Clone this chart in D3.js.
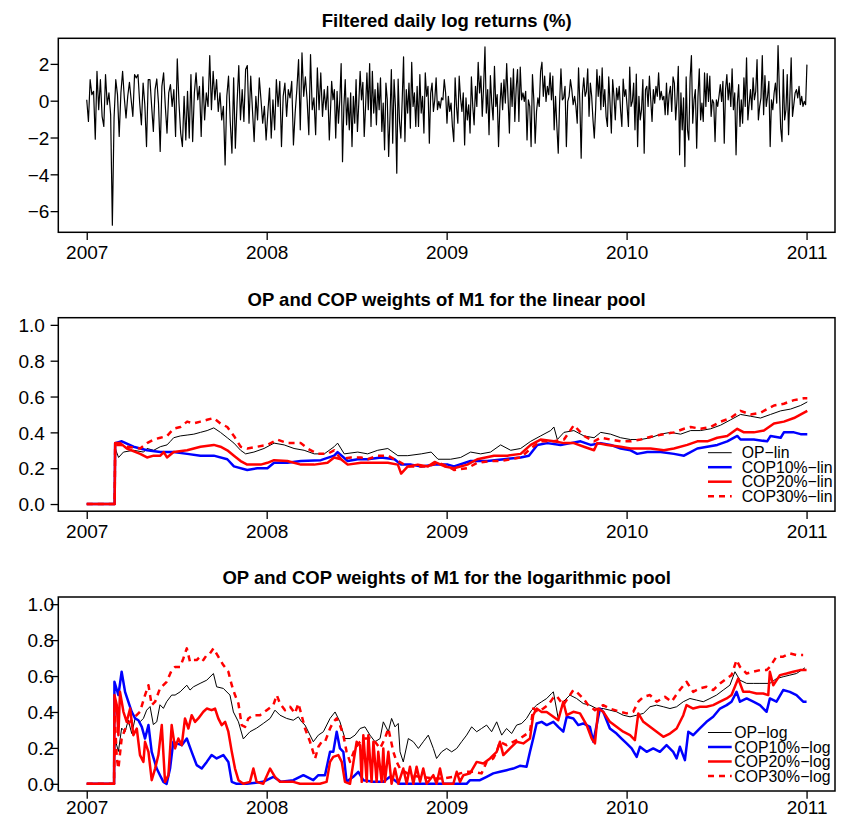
<!DOCTYPE html>
<html><head><meta charset="utf-8">
<script src="https://cdn.jsdelivr.net/npm/d3@7/dist/d3.min.js"></script>
<style>
body{margin:0;background:#fff}
svg{display:block}
</style>
</head><body>
<svg id="chart" width="842" height="815"></svg>
<script>
// ---------- data (time in years since 2007) ----------
const yearTicks = [0, 1, 2, 3, 4];
const yearLabels = ["2007", "2008", "2009", "2010", "2011"];
const returnTicks = [2, 0, -2, -4, -6];
const weightTicks = [0, 0.2, 0.4, 0.6, 0.8, 1.0];
const titles = [
  "Filtered daily log returns (%)",
  "OP and COP weights of M1 for the linear pool",
  "OP and COP weights of M1 for the logarithmic pool"
];
const legendLin = ["OP\u2212lin", "COP10%\u2212lin", "COP20%\u2212lin", "COP30%\u2212lin"];
const legendLog = ["OP\u2212log", "COP10%\u2212log", "COP20%\u2212log", "COP30%\u2212log"];

// daily returns, read in three consecutive stretches (start, end in years since 2007)
const returnSpans = [[0, 1.348], [1.361, 2.703], [2.711, 4.002]];
const returnsA = [0.05,-1.13,1.14,0.33,0.51,-2.09,1.60,-0.49,1.14,-0.85,-1.40,1.42,-0.22,0.42,-0.76,-6.76,-0.94,1.14,0.33,-1.94,0.42,1.60,0.15,-0.94,0.24,1.00,0.05,-0.85,1.42,1.24,1.42,-0.13,-1.31,0.96,-0.22,-2.49,1.14,1.14,-0.31,-1.67,0.60,1.18,-0.13,-2.76,0.78,1.51,-0.31,-1.76,0.42,0.87,-0.31,0.60,-1.94,2.27,-0.13,-1.76,-2.49,0.24,-2.13,0.51,-2.03,1.42,-2.22,0.42,1.51,0.05,0.78,-1.94,1.29,-1.04,0.42,-0.31,2.45,-0.49,1.60,0.05,1.14,-0.58,0.42,-1.04,-0.31,-3.49,0.24,1.33,-1.13,-2.85,1.24,-2.58,-0.13,1.91,-1.04,0.60,-1.13,1.69,1.91,-1.22,1.33,-0.49,-2.22,0.24,-1.04,1.24,0.05,-1.22,-0.31,-2.13,-0.67,0.69,-2.03,0.05,-1.58,1.14,-0.31,1.05,-2.49,0.24,0.96,-0.85,0.60,0.15,1.05,-2.40,-0.67,0.60,2.23,-1.58,2.60,0.24,1.29,0.05,-1.85,2.51,-0.49,0.15,-1.85,1.78,-0.49,1.51,-0.85,0.60,-0.49,0.78,-2.13];
const returnsB = [1.05,0.05,0.60,-2.03,0.51,-1.22,0.05,2.02,-3.31,-0.31,1.14,-1.31,0.15,-1.58,0.42,-2.49,0.24,-1.22,1.14,-1.67,-0.13,1.60,0.05,1.00,-1.94,-0.31,1.51,-0.49,2.02,-1.40,1.60,-0.67,0.60,-1.31,0.96,-0.49,1.24,-1.67,-0.13,-2.67,0.96,0.05,-3.03,-0.85,1.69,-2.31,1.14,-0.31,-3.94,1.18,-1.13,-2.03,0.05,2.38,-2.22,0.60,-0.67,0.96,-1.49,2.09,-0.31,0.42,-1.40,0.78,-1.40,1.42,-0.67,0.24,-1.76,1.51,0.24,0.78,-2.31,0.42,0.96,-0.58,0.05,1.24,-0.49,-0.04,-0.40,0.15,0.05,1.14,0.42,-1.22,0.24,-0.58,-0.13,-1.40,-2.22,1.24,-0.31,-1.22,1.33,0.15,-0.58,0.42,-2.40,0.15,-1.04,-0.22,-1.76,1.29,-0.31,-1.31,0.78,-0.31,2.09,0.42,1.33,-0.85,0.78,2.92,-0.67,0.60,-1.85,1.36,-0.13,-1.04,1.87,-0.31,0.33,-2.49,-0.31,0.96,-0.49,1.14,-0.13,2.02,0.15,-1.76,1.24,-0.31,1.73,-1.13,0.69,1.69,-1.13,1.83,0.05,0.42,-0.04,0.51,-2.13,0.05,-0.31,-2.49,1.42,0.05,-2.31,-0.58,0.15,-0.31,1.60,2.09,0.24,1.33,-0.04,0.78,0.33,1.51,0.05,1.33,-1.58,0.24,-1.40,-2.85,-0.13,1.73,0.05,0.15,0.78,-2.49,-0.04,0.24,1.14,0.60,-0.22];
const returnsC = [0.24,-0.31,-1.22,1.78,-0.13,-3.12,0.42,1.24,0.24,0.51,1.73,-0.85,0.96,0.24,-1.04,-2.03,-0.49,1.69,0.24,1.33,-0.49,1.78,-0.31,0.60,-0.85,-1.40,1.29,-0.13,-1.76,1.14,0.24,-1.04,0.69,0.05,0.78,-0.49,-1.40,1.18,0.24,0.60,-0.31,-1.40,1.83,-0.31,-0.04,0.96,-1.58,1.44,-2.49,0.24,-1.04,-0.49,1.14,-2.85,0.60,0.78,-0.31,1.33,0.05,-1.13,0.60,-0.13,0.78,0.24,1.51,0.05,0.51,0.05,0.24,-0.76,0.96,-0.76,0.33,0.78,-0.58,1.29,0.96,-1.04,0.05,1.87,-2.94,0.42,-1.58,0.15,-3.58,1.29,-1.58,-2.13,1.24,2.45,-1.22,0.05,0.60,-2.58,0.24,1.73,-1.04,-0.13,-1.13,1.51,-0.31,1.47,-0.04,1.33,-0.85,0.05,-0.13,-2.22,0.05,-0.31,0.24,0.87,-0.04,1.05,-2.31,0.60,1.42,0.05,0.96,-0.31,1.73,-0.49,0.42,-2.94,-0.13,0.87,-1.40,0.05,-1.22,1.24,-0.31,2.33,-1.04,-0.13,0.60,-0.49,1.24,0.05,0.51,2.23,-1.04,-0.31,0.15,2.45,-0.76,1.36,-0.31,0.24,1.05,-2.49,0.05,-0.49,0.42,0.96,-0.13,3.00,0.60,-1.49,-2.22,1.69,-1.04,-0.49,1.42,-1.85,0.24,2.33,-0.85,-0.22,0.42,0.60,0.15,0.78,-0.22,0.24,-0.31,-0.04,-0.22,1.96];

// linear pool weights [time, weight]
const opLin = [[0,0],[0.155,0],[0.158,0.31],[0.177,0.26],[0.204,0.29],[0.26,0.30],[0.316,0.29],[0.335,0.31],[0.372,0.30],[0.409,0.32],[0.446,0.33],[0.465,0.35],[0.483,0.37],[0.52,0.38],[0.558,0.385],[0.595,0.39],[0.632,0.40],[0.669,0.41],[0.706,0.425],[0.743,0.40],[0.781,0.37],[0.818,0.34],[0.855,0.30],[0.883,0.28],[0.929,0.29],[0.985,0.31],[1.041,0.34],[1.097,0.33],[1.152,0.31],[1.208,0.30],[1.264,0.28],[1.32,0.28],[1.375,0.32],[1.394,0.34],[1.431,0.28],[1.506,0.29],[1.561,0.28],[1.617,0.30],[1.673,0.31],[1.729,0.27],[1.784,0.27],[1.859,0.28],[1.914,0.29],[1.952,0.25],[2.022,0.25],[2.078,0.26],[2.133,0.29],[2.189,0.28],[2.244,0.29],[2.30,0.33],[2.356,0.30],[2.411,0.31],[2.467,0.35],[2.522,0.38],[2.578,0.41],[2.596,0.43],[2.615,0.36],[2.652,0.40],[2.707,0.41],[2.763,0.38],[2.819,0.37],[2.856,0.40],[2.911,0.39],[2.967,0.37],[3.022,0.36],[3.078,0.36],[3.133,0.37],[3.189,0.39],[3.244,0.40],[3.30,0.39],[3.356,0.41],[3.411,0.41],[3.467,0.42],[3.522,0.44],[3.578,0.47],[3.633,0.50],[3.689,0.49],[3.744,0.48],[3.80,0.50],[3.856,0.52],[3.911,0.53],[3.967,0.55],[4.004,0.57]];
const cop10Lin = [[0,0],[0.155,0],[0.158,0.34],[0.195,0.35],[0.26,0.32],[0.335,0.30],[0.409,0.29],[0.483,0.29],[0.558,0.28],[0.632,0.27],[0.706,0.27],[0.781,0.25],[0.818,0.21],[0.892,0.19],[0.948,0.20],[1.004,0.20],[1.041,0.23],[1.115,0.23],[1.19,0.24],[1.301,0.245],[1.375,0.27],[1.394,0.29],[1.45,0.24],[1.506,0.25],[1.561,0.25],[1.636,0.26],[1.71,0.25],[1.747,0.22],[1.803,0.22],[1.859,0.21],[1.933,0.22],[2.007,0.22],[2.041,0.21],[2.133,0.24],[2.226,0.24],[2.319,0.25],[2.411,0.26],[2.457,0.27],[2.504,0.33],[2.559,0.34],[2.633,0.33],[2.689,0.34],[2.744,0.35],[2.80,0.33],[2.856,0.34],[2.911,0.33],[2.967,0.31],[3.022,0.30],[3.059,0.28],[3.115,0.29],[3.189,0.29],[3.263,0.28],[3.319,0.27],[3.337,0.28],[3.393,0.31],[3.448,0.32],[3.504,0.33],[3.559,0.35],[3.615,0.38],[3.633,0.36],[3.707,0.36],[3.781,0.35],[3.80,0.38],[3.856,0.37],[3.874,0.40],[3.93,0.40],[3.967,0.39],[4.004,0.39]];
const cop20Lin = [[0,0],[0.155,0],[0.158,0.34],[0.186,0.34],[0.223,0.31],[0.297,0.28],[0.335,0.26],[0.372,0.27],[0.409,0.27],[0.428,0.29],[0.446,0.26],[0.483,0.29],[0.558,0.30],[0.595,0.31],[0.632,0.32],[0.706,0.33],[0.743,0.32],[0.781,0.30],[0.818,0.27],[0.855,0.24],[0.892,0.22],[0.967,0.22],[1.004,0.23],[1.041,0.245],[1.115,0.24],[1.19,0.22],[1.264,0.22],[1.338,0.23],[1.375,0.26],[1.413,0.25],[1.45,0.22],[1.524,0.23],[1.599,0.23],[1.673,0.23],[1.729,0.22],[1.747,0.17],[1.784,0.21],[1.84,0.22],[1.896,0.21],[1.933,0.235],[1.989,0.21],[2.041,0.20],[2.115,0.22],[2.17,0.25],[2.263,0.27],[2.337,0.27],[2.411,0.28],[2.467,0.33],[2.522,0.36],[2.596,0.35],[2.652,0.34],[2.707,0.34],[2.763,0.32],[2.819,0.30],[2.837,0.34],[2.893,0.33],[2.967,0.32],[3.022,0.31],[3.078,0.31],[3.133,0.31],[3.207,0.30],[3.263,0.31],[3.337,0.33],[3.393,0.35],[3.448,0.35],[3.504,0.37],[3.559,0.38],[3.615,0.42],[3.652,0.40],[3.707,0.40],[3.763,0.41],[3.819,0.45],[3.874,0.46],[3.93,0.48],[4.004,0.52]];
const cop30Lin = [[0,0],[0.155,0],[0.158,0.33],[0.186,0.33],[0.223,0.32],[0.297,0.31],[0.335,0.34],[0.372,0.36],[0.409,0.37],[0.446,0.38],[0.483,0.42],[0.52,0.43],[0.558,0.46],[0.595,0.45],[0.632,0.46],[0.669,0.47],[0.706,0.48],[0.743,0.45],[0.781,0.43],[0.818,0.38],[0.855,0.32],[0.892,0.31],[0.948,0.32],[1.004,0.33],[1.059,0.36],[1.115,0.34],[1.19,0.34],[1.227,0.31],[1.283,0.28],[1.338,0.28],[1.375,0.30],[1.413,0.25],[1.468,0.26],[1.524,0.26],[1.561,0.25],[1.617,0.27],[1.673,0.27],[1.729,0.24],[1.784,0.21],[1.84,0.21],[1.896,0.21],[1.952,0.23],[2.007,0.21],[2.041,0.19],[2.115,0.20],[2.17,0.23],[2.244,0.24],[2.30,0.24],[2.411,0.26],[2.467,0.31],[2.522,0.35],[2.596,0.35],[2.652,0.36],[2.707,0.44],[2.763,0.38],[2.819,0.35],[2.856,0.37],[2.911,0.36],[2.967,0.35],[3.022,0.35],[3.078,0.36],[3.152,0.38],[3.207,0.39],[3.263,0.40],[3.319,0.42],[3.356,0.43],[3.411,0.42],[3.467,0.43],[3.522,0.46],[3.578,0.48],[3.633,0.52],[3.689,0.50],[3.744,0.51],[3.819,0.55],[3.874,0.56],[3.93,0.58],[3.985,0.59],[4.004,0.59]];

// logarithmic pool weights [time, weight]
const opLog = [[0,0],[0.152,0],[0.157,0.25],[0.176,0.18],[0.194,0.31],[0.213,0.29],[0.231,0.354],[0.25,0.28],[0.269,0.364],[0.296,0.345],[0.315,0.364],[0.333,0.41],[0.352,0.43],[0.37,0.33],[0.389,0.345],[0.407,0.44],[0.426,0.42],[0.444,0.457],[0.472,0.494],[0.491,0.494],[0.519,0.512],[0.556,0.549],[0.574,0.522],[0.593,0.54],[0.63,0.559],[0.667,0.577],[0.704,0.614],[0.722,0.54],[0.759,0.531],[0.796,0.494],[0.815,0.40],[0.843,0.345],[0.87,0.25],[0.907,0.29],[0.944,0.31],[0.981,0.336],[1.019,0.364],[1.046,0.41],[1.074,0.382],[1.111,0.364],[1.148,0.354],[1.176,0.373],[1.194,0.345],[1.213,0.327],[1.259,0.234],[1.287,0.271],[1.315,0.29],[1.352,0.364],[1.38,0.40],[1.407,0.345],[1.435,0.252],[1.463,0.252],[1.491,0.271],[1.519,0.308],[1.546,0.317],[1.574,0.271],[1.602,0.234],[1.63,0.252],[1.648,0.345],[1.676,0.29],[1.694,0.364],[1.713,0.317],[1.731,0.336],[1.741,0.178],[1.759,0.122],[1.787,0.252],[1.815,0.234],[1.843,0.197],[1.87,0.234],[1.898,0.271],[1.926,0.197],[1.944,0.141],[1.972,0.178],[2.0,0.197],[2.028,0.178],[2.056,0.197],[2.083,0.234],[2.111,0.271],[2.139,0.317],[2.167,0.29],[2.194,0.308],[2.222,0.327],[2.25,0.29],[2.278,0.345],[2.306,0.271],[2.333,0.308],[2.361,0.28],[2.389,0.327],[2.417,0.336],[2.444,0.364],[2.472,0.41],[2.50,0.438],[2.528,0.457],[2.556,0.475],[2.583,0.503],[2.593,0.512],[2.62,0.364],[2.648,0.457],[2.685,0.494],[2.722,0.475],[2.759,0.447],[2.796,0.438],[2.833,0.419],[2.87,0.419],[2.907,0.41],[2.944,0.401],[2.981,0.382],[3.019,0.373],[3.056,0.382],[3.093,0.392],[3.13,0.429],[3.167,0.438],[3.204,0.429],[3.241,0.419],[3.278,0.429],[3.315,0.457],[3.352,0.475],[3.389,0.466],[3.426,0.457],[3.463,0.475],[3.50,0.494],[3.537,0.522],[3.574,0.549],[3.602,0.624],[3.63,0.577],[3.667,0.559],[3.704,0.559],[3.741,0.559],[3.796,0.559],[3.833,0.586],[3.87,0.596],[3.907,0.605],[3.944,0.614],[3.991,0.646]];
const cop10Log = [[0,0],[0.152,0],[0.154,0.568],[0.176,0.494],[0.194,0.624],[0.213,0.512],[0.231,0.457],[0.25,0.401],[0.269,0.364],[0.287,0.354],[0.306,0.317],[0.324,0.252],[0.343,0.327],[0.361,0.178],[0.389,0.085],[0.407,0.048],[0.426,0.011],[0.444,0],[0.463,0.085],[0.481,0.234],[0.50,0.225],[0.528,0.215],[0.556,0.252],[0.583,0.178],[0.611,0.104],[0.639,0.085],[0.667,0.122],[0.694,0.16],[0.722,0.141],[0.759,0.16],[0.787,0.122],[0.806,0.011],[0.833,0],[0.889,0],[0.98,0.011],[1.037,0.039],[1.08,0.011],[1.148,0.02],[1.204,0.048],[1.259,0.02],[1.287,0.048],[1.324,0.048],[1.352,0.178],[1.37,0.178],[1.389,0.29],[1.407,0.197],[1.426,0.178],[1.444,0.011],[1.481,0.039],[1.509,0.067],[1.537,0.02],[1.593,0.011],[1.648,0.011],[1.685,0.039],[1.722,0.011],[1.741,0],[1.926,0],[2.111,0],[2.13,0.02],[2.185,0.02],[2.222,0.039],[2.259,0.058],[2.296,0.067],[2.333,0.076],[2.37,0.085],[2.407,0.10],[2.444,0.095],[2.463,0.178],[2.481,0.252],[2.50,0.336],[2.528,0.345],[2.556,0.327],[2.593,0.345],[2.62,0.317],[2.648,0.29],[2.667,0.373],[2.704,0.364],[2.731,0.327],[2.759,0.336],[2.796,0.317],[2.815,0.234],[2.852,0.419],[2.87,0.401],[2.907,0.308],[2.944,0.28],[2.972,0.252],[3.0,0.225],[3.028,0.197],[3.056,0.15],[3.074,0.206],[3.111,0.178],[3.148,0.197],[3.185,0.178],[3.222,0.215],[3.259,0.178],[3.278,0.141],[3.296,0.206],[3.324,0.132],[3.343,0.29],[3.37,0.271],[3.407,0.308],[3.444,0.345],[3.481,0.373],[3.519,0.419],[3.556,0.438],[3.583,0.457],[3.611,0.512],[3.63,0.457],[3.667,0.475],[3.704,0.457],[3.741,0.438],[3.778,0.401],[3.796,0.475],[3.833,0.457],[3.87,0.522],[3.907,0.512],[3.944,0.494],[3.981,0.457],[4.0,0.457]];
const cop20Log = [[0,0],[0.152,0],[0.154,0.494],[0.167,0.438],[0.176,0.271],[0.185,0.512],[0.204,0.401],[0.222,0.345],[0.241,0.419],[0.259,0.271],[0.278,0.308],[0.296,0.16],[0.315,0.122],[0.324,0.234],[0.343,0.178],[0.361,0.02],[0.38,0.085],[0.398,0.16],[0.417,0.327],[0.435,0.011],[0.454,0.048],[0.472,0.327],[0.491,0.197],[0.509,0.252],[0.528,0.215],[0.546,0.364],[0.565,0.308],[0.583,0.382],[0.602,0.345],[0.62,0.364],[0.648,0.401],[0.667,0.419],[0.694,0.41],[0.713,0.419],[0.731,0.364],[0.75,0.327],[0.769,0.345],[0.787,0.29],[0.806,0.178],[0.824,0.085],[0.843,0.02],[0.87,0],[0.907,0.011],[0.926,0.085],[0.944,0.011],[0.981,0],[1.019,0.085],[1.046,0.039],[1.074,0.011],[1.148,0.011],[1.185,0],[1.296,0],[1.333,0.011],[1.352,0.122],[1.37,0.15],[1.398,0.16],[1.417,0.122],[1.435,0.011],[1.463,0],[1.50,0.234],[1.519,0.215],[1.528,0.011],[1.537,0.271],[1.556,0.011],[1.565,0.271],[1.583,0.011],[1.593,0.234],[1.611,0.011],[1.62,0.178],[1.639,0.011],[1.648,0.197],[1.657,0.011],[1.676,0.178],[1.694,0],[1.713,0.085],[1.731,0],[1.759,0.085],[1.778,0],[1.796,0.095],[1.815,0],[1.833,0.095],[1.852,0.011],[1.87,0.085],[1.889,0],[1.926,0.048],[1.944,0],[1.963,0.085],[1.981,0],[2.037,0],[2.056,0.067],[2.074,0.011],[2.093,0.048],[2.13,0.058],[2.167,0.122],[2.204,0.113],[2.241,0.141],[2.278,0.178],[2.296,0.234],[2.315,0.16],[2.352,0.197],[2.389,0.234],[2.426,0.225],[2.463,0.252],[2.481,0.382],[2.50,0.419],[2.528,0.40],[2.556,0.40],[2.593,0.373],[2.62,0.354],[2.648,0.457],[2.667,0.382],[2.704,0.401],[2.741,0.392],[2.778,0.327],[2.806,0.252],[2.824,0.225],[2.843,0.419],[2.87,0.401],[2.907,0.345],[2.944,0.317],[2.981,0.29],[3.019,0.271],[3.046,0.243],[3.065,0.392],[3.093,0.345],[3.13,0.317],[3.167,0.29],[3.204,0.262],[3.241,0.28],[3.278,0.308],[3.315,0.382],[3.333,0.438],[3.37,0.419],[3.407,0.429],[3.444,0.429],[3.481,0.438],[3.519,0.457],[3.556,0.475],[3.583,0.494],[3.62,0.586],[3.648,0.512],[3.685,0.512],[3.722,0.503],[3.759,0.503],[3.787,0.494],[3.796,0.624],[3.815,0.549],[3.852,0.605],[3.889,0.614],[3.926,0.624],[3.963,0.633],[4.0,0.633]];
const cop30Log = [[0,0],[0.152,0],[0.154,0.419],[0.167,0.141],[0.176,0.085],[0.194,0.252],[0.222,0.327],[0.259,0.364],[0.296,0.401],[0.324,0.494],[0.343,0.549],[0.361,0.438],[0.38,0.457],[0.407,0.531],[0.444,0.568],[0.472,0.633],[0.491,0.651],[0.519,0.651],[0.537,0.698],[0.556,0.754],[0.574,0.679],[0.593,0.689],[0.611,0.689],[0.63,0.708],[0.648,0.689],[0.667,0.717],[0.685,0.726],[0.704,0.754],[0.731,0.708],[0.759,0.661],[0.787,0.624],[0.806,0.549],[0.824,0.494],[0.843,0.447],[0.861,0.327],[0.88,0.317],[0.898,0.364],[0.926,0.382],[0.963,0.382],[1.0,0.41],[1.037,0.438],[1.056,0.494],[1.074,0.447],[1.102,0.41],[1.13,0.429],[1.157,0.392],[1.176,0.447],[1.194,0.382],[1.213,0.308],[1.241,0.234],[1.269,0.141],[1.287,0.206],[1.306,0.234],[1.324,0.234],[1.352,0.308],[1.37,0.345],[1.389,0.364],[1.407,0.327],[1.426,0.271],[1.444,0.178],[1.463,0.122],[1.491,0.197],[1.519,0.234],[1.546,0.252],[1.574,0.252],[1.602,0.234],[1.63,0.197],[1.657,0.252],[1.676,0.308],[1.704,0.178],[1.722,0.122],[1.741,0.085],[1.796,0.048],[1.852,0.039],[1.926,0.03],[1.981,0.03],[2.037,0.039],[2.074,0.058],[2.111,0.067],[2.148,0.067],[2.194,0.058],[2.222,0.122],[2.259,0.141],[2.278,0.178],[2.296,0.234],[2.333,0.215],[2.37,0.234],[2.407,0.252],[2.435,0.271],[2.463,0.29],[2.481,0.419],[2.509,0.40],[2.537,0.419],[2.565,0.44],[2.593,0.48],[2.611,0.49],[2.648,0.438],[2.685,0.494],[2.704,0.522],[2.722,0.512],[2.759,0.475],[2.787,0.438],[2.824,0.41],[2.87,0.438],[2.907,0.419],[2.963,0.401],[3.0,0.392],[3.037,0.401],[3.065,0.457],[3.093,0.484],[3.13,0.494],[3.167,0.457],[3.213,0.484],[3.25,0.457],[3.287,0.512],[3.333,0.568],[3.37,0.512],[3.407,0.531],[3.444,0.54],[3.481,0.522],[3.519,0.559],[3.556,0.586],[3.583,0.605],[3.611,0.689],[3.63,0.651],[3.667,0.614],[3.704,0.624],[3.741,0.633],[3.778,0.633],[3.796,0.651],[3.833,0.708],[3.87,0.708],[3.907,0.726],[3.944,0.717],[3.981,0.717]];

// ---------- layout ----------
const FONT = "'Liberation Sans', Arial, Helvetica, sans-serif";
const plotLeft = 58.3, plotRight = 835;
const panels = [
  {top: 38.3, bottom: 232.3, titleBase: 27.0, xLabelOff: 26.5, yLabelRight: 48.3},
  {top: 317.7, bottom: 511.2, titleBase: 305.5, xLabelOff: 26.9, yLabelRight: 43.8},
  {top: 597.0, bottom: 791.0, titleBase: 583.5, xLabelOff: 22.6, yLabelRight: 53.0}
];
const svg = d3.select("#chart");
const x = d3.scaleLinear().domain([-0.158, 4.158]).range([plotLeft, plotRight]);

function drawFrame(p, y, ticks, fmt, title) {
  const g = svg.append("g");
  const ya = g.append("g").attr("transform", `translate(${plotLeft},0)`)
    .call(d3.axisLeft(y).tickValues(ticks).tickFormat(fmt).tickSize(7.7).tickSizeOuter(0));
  ya.select(".domain").remove();
  ya.attr("font-family", FONT).attr("font-size", 19);
  ya.selectAll(".tick line").attr("stroke", "#000").attr("stroke-width", 1.3);
  ya.selectAll(".tick text").attr("fill", "#000").attr("x", -(plotLeft - p.yLabelRight - 1)).attr("dy", "0.355em");
  const xa = g.append("g").attr("transform", `translate(0,${p.bottom})`)
    .call(d3.axisBottom(x).tickValues(yearTicks).tickFormat((d, i) => yearLabels[i]).tickSize(7.7).tickSizeOuter(0));
  xa.select(".domain").remove();
  xa.attr("font-family", FONT).attr("font-size", 19);
  xa.selectAll(".tick line").attr("stroke", "#000").attr("stroke-width", 1.3);
  xa.selectAll(".tick text").attr("fill", "#000").attr("y", p.xLabelOff).attr("dy", null);
  g.append("rect").attr("x", plotLeft).attr("y", p.top)
    .attr("width", plotRight - plotLeft).attr("height", p.bottom - p.top)
    .attr("fill", "none").attr("stroke", "#000").attr("stroke-width", 1.5);
  g.append("text").attr("x", (plotLeft + plotRight) / 2).attr("y", p.titleBase)
    .attr("text-anchor", "middle").attr("font-family", FONT).attr("font-weight", "bold")
    .attr("font-size", 18.5).attr("fill", "#000").text(title);
  return g;
}

// ---------- panel 1: returns ----------
{
  const p = panels[0];
  const y = d3.scaleLinear().domain([-7.15, 3.39]).range([p.bottom, p.top]);
  const segs = [returnsA, returnsB, returnsC];
  const data = [];
  segs.forEach((vals, k) => {
    const [a, b] = returnSpans[k];
    vals.forEach((v, i) => data.push([a + (b - a) * i / (vals.length - 1), v]));
  });
  const line = d3.line().x(d => x(d[0])).y(d => y(d[1]));
  svg.append("path").datum(data).attr("d", line).attr("fill", "none")
    .attr("stroke", "#000").attr("stroke-width", 1.2).attr("stroke-linejoin", "round");
  drawFrame(p, y, returnTicks, d3.format("d"), titles[0]);
}

// ---------- weights panels ----------
const styles = [
  {color: "#000000", width: 1.0, dash: null},
  {color: "#0000FF", width: 2.5, dash: null},
  {color: "#FF0000", width: 2.5, dash: null},
  {color: "#FF0000", width: 2.5, dash: "6,5"}
];
function weightPanel(p, seriesList, labels, title, legendTextX) {
  const y = d3.scaleLinear().domain([-0.04, 1.04]).range([p.bottom, p.top]);
  const line = d3.line().x(d => x(d[0])).y(d => y(d[1]));
  seriesList.forEach((s, i) => {
    const st = styles[i];
    const path = svg.append("path").datum(s).attr("d", line).attr("fill", "none")
      .attr("stroke", st.color).attr("stroke-width", st.width)
      .attr("stroke-linejoin", "round");
    if (st.dash) path.attr("stroke-dasharray", st.dash);
  });
  drawFrame(p, y, weightTicks, d3.format(".1f"), title);
  const rowOff = [58.5, 44, 29.5, 15];
  const lg = svg.append("g");
  labels.forEach((lab, i) => {
    const st = styles[i];
    const yy = p.bottom - rowOff[i];
    const ln = lg.append("line").attr("x1", 708).attr("x2", 731.7).attr("y1", yy).attr("y2", yy)
      .attr("stroke", st.color).attr("stroke-width", st.width);
    if (st.dash) ln.attr("stroke-dasharray", st.dash);
    lg.append("text").attr("x", legendTextX).attr("y", yy).attr("dy", "0.355em")
      .attr("font-family", FONT).attr("font-size", 15.8).attr("fill", "#000").text(lab);
  });
}
weightPanel(panels[1], [opLin, cop10Lin, cop20Lin, cop30Lin], legendLin, titles[1], 741.7);
weightPanel(panels[2], [opLog, cop10Log, cop20Log, cop30Log], legendLog, titles[2], 734.3);
</script>
</body></html>
